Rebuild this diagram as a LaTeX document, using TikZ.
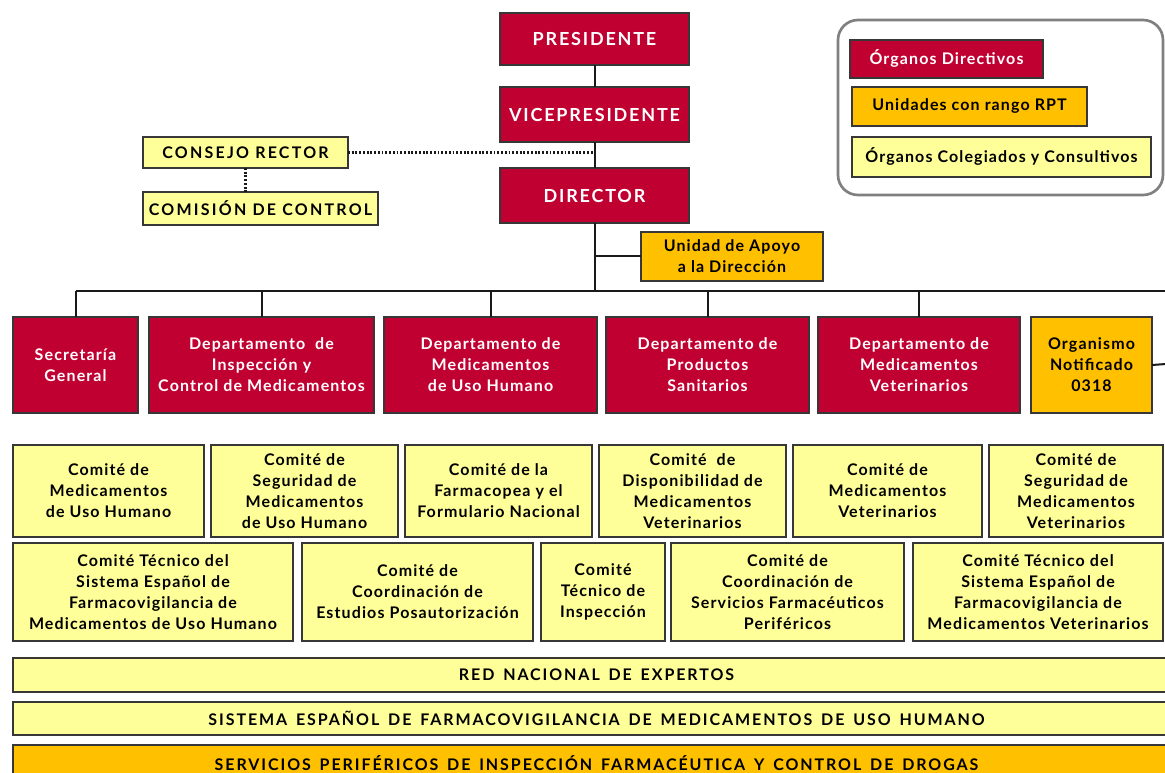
\documentclass[tikz,border=0pt]{standalone}
\usepackage{fontspec}
\setmainfont{Lato}
\definecolor{crim}{RGB}{193,0,50}
\definecolor{amber}{RGB}{255,192,0}
\definecolor{paley}{RGB}{255,255,153}
\definecolor{edge}{RGB}{55,55,55}
\newcommand\fbody{\fontsize{12}{15.75}\selectfont\bfseries\addfontfeature{LetterSpace=7}}
\newcommand\fcaps{\fontsize{12}{14}\selectfont\bfseries\addfontfeature{LetterSpace=14}}
\newcommand\ftop{\fontsize{13.5}{15}\selectfont\bfseries\addfontfeature{LetterSpace=10}}
\newcommand\fbar{\fontsize{12}{13}\selectfont\bfseries\addfontfeature{LetterSpace=12}\spaceskip=0.55em}
\tikzset{
  box/.style={draw=edge, line width=1.3pt, inner sep=0pt, outer sep=0pt, align=center, font=\fbody},
  redbox/.style={box, fill=crim, text=white},
  orbox/.style={box, fill=amber, text=black},
  ylbox/.style={box, fill=paley, text=black},
  bw/.style={minimum width=0.75pt*#1},
  bh/.style={minimum height=0.75pt*#1},
  conn/.style={line width=1.5pt, draw=black!90},
  dotconn/.style={line width=1.6pt, draw=black!90, dash pattern=on 1.4pt off 1.4pt},
}
\begin{document}
\begin{tikzpicture}[x=0.75pt,y=-0.75pt]
\useasboundingbox (0,0) rectangle (1165,773);
\clip (0,0) rectangle (1165,773);
\fill[white] (0,0) rectangle (1165,773);
% top chain
\node[redbox, bw=189, bh=52, font=\ftop] (pres) at (594.5,39) {PRESIDENTE};
\node[redbox, bw=189, bh=55, font=\ftop] (vice) at (594.5,114.5) {VICEPRESIDENTE};
\node[redbox, bw=189, bh=55, font=\ftop] (dir) at (594.5,195.5) {DIRECTOR};
\node[ylbox, bw=205, bh=31, font=\fcaps] (consejo) at (245.5,152.5) {CONSEJO RECTOR};
\node[ylbox, bw=235, bh=33, font=\fcaps] (comision) at (260.5,208.5) {COMISIÓN DE CONTROL};
\node[orbox, bw=182, bh=49] (unidad) at (732,256.5) {Unidad de Apoyo\\a la Dirección};
% legend
\draw[draw=black!50, line width=2pt, rounded corners=15pt] (838,20) rectangle (1163,195);
\node[redbox, bw=193, bh=38] (leg1) at (946.5,59) {Órganos Directivos};
\node[orbox, bw=235, bh=39] (leg2) at (969.5,106.5) {Unidades con rango RPT};
\node[ylbox, bw=299, bh=40] (leg3) at (1001.5,157) {Órganos Colegiados y Consultivos};
% departments
\node[redbox, bw=125, bh=96] (sec) at (75.5,365) {Secretaría\\General};
\node[redbox, bw=225, bh=96] (insp) at (261.5,365) {Departamento~ de\\Inspección y\\Control de Medicamentos};
\node[redbox, bw=213, bh=96] (hum) at (490.5,365) {Departamento de\\Medicamentos\\de Uso Humano};
\node[redbox, bw=203, bh=96] (prod) at (707.5,365) {Departamento de\\Productos\\Sanitarios};
\node[redbox, bw=202, bh=96] (vet) at (919,365) {Departamento de\\Medicamentos\\Veterinarios};
\node[orbox, bw=121, bh=96] (org) at (1091.5,365) {Organismo\\Notificado\\0318};
% committees row 1
\node[ylbox, bw=191, bh=92] (c1) at (108.5,491) {Comité de\\Medicamentos\\de Uso Humano};
\node[ylbox, bw=187, bh=92] (c2) at (304.5,491) {Comité de\\Seguridad de\\Medicamentos\\de Uso Humano};
\node[ylbox, bw=187, bh=92] (c3) at (498.5,491) {Comité de la\\Farmacopea y el\\Formulario Nacional};
\node[ylbox, bw=187, bh=92] (c4) at (692.5,491) {Comité~ de\\Disponibilidad de\\Medicamentos\\Veterinarios};
\node[ylbox, bw=189, bh=92] (c5) at (887.5,491) {Comité de\\Medicamentos\\Veterinarios};
\node[ylbox, bw=174, bh=92] (c6) at (1076,491) {Comité de\\Seguridad de\\Medicamentos\\Veterinarios};
% committees row 2
\node[ylbox, bw=280, bh=98] (d1) at (153,592) {Comité Técnico del\\Sistema Español de\\Farmacovigilancia de\\Medicamentos de Uso Humano};
\node[ylbox, bw=231, bh=98] (d2) at (417.5,592) {Comité de\\Coordinación de\\Estudios Posautorización};
\node[ylbox, bw=124, bh=98] (d3) at (603,592) {Comité\\Técnico de\\Inspección};
\node[ylbox, bw=233, bh=98] (d4) at (787.5,592) {Comité de\\Coordinación de\\Servicios Farmacéuticos\\Periféricos};
\node[ylbox, bw=250, bh=98] (d5) at (1038,592) {Comité Técnico del\\Sistema Español de\\Farmacovigilancia de\\Medicamentos Veterinarios};
% bars
\node[ylbox, bw=1167, bh=34, font=\fbar] (red) at (596.5,675) {RED NACIONAL DE EXPERTOS};
\node[ylbox, bw=1167, bh=33, font=\fbar] (sis) at (596.5,718.5) {SISTEMA ESPAÑOL DE FARMACOVIGILANCIA DE MEDICAMENTOS DE USO HUMANO};
\node[orbox, bw=1167, bh=36, font=\fbar] (serv) at (596.5,763) {SERVICIOS PERIFÉRICOS DE INSPECCIÓN FARMACÉUTICA Y CONTROL DE DROGAS};
% connectors
\coordinate (busY) at (0,291.5);
\coordinate (busR) at (1166,291.5);
\coordinate (orgR) at (1166,364);
\draw[conn] (pres.south) -- (vice.north);
\draw[conn] (vice.south) -- (dir.north);
\draw[conn] (dir.south) -- (dir.south |- busY);
\draw[conn] (unidad.west) -- (unidad.west -| dir.south);
\draw[conn] (sec.north |- busY) -- (busR);
\foreach \n in {sec,insp,hum,prod,vet} \draw[conn] (\n.north) -- (\n.north |- busY);
\draw[conn] (org.east) -- (orgR);
\draw[dotconn] (consejo.east) -- (consejo.east -| vice.south);
\draw[dotconn] (consejo.south) -- (consejo.south |- comision.north);
\end{tikzpicture}
\end{document}
